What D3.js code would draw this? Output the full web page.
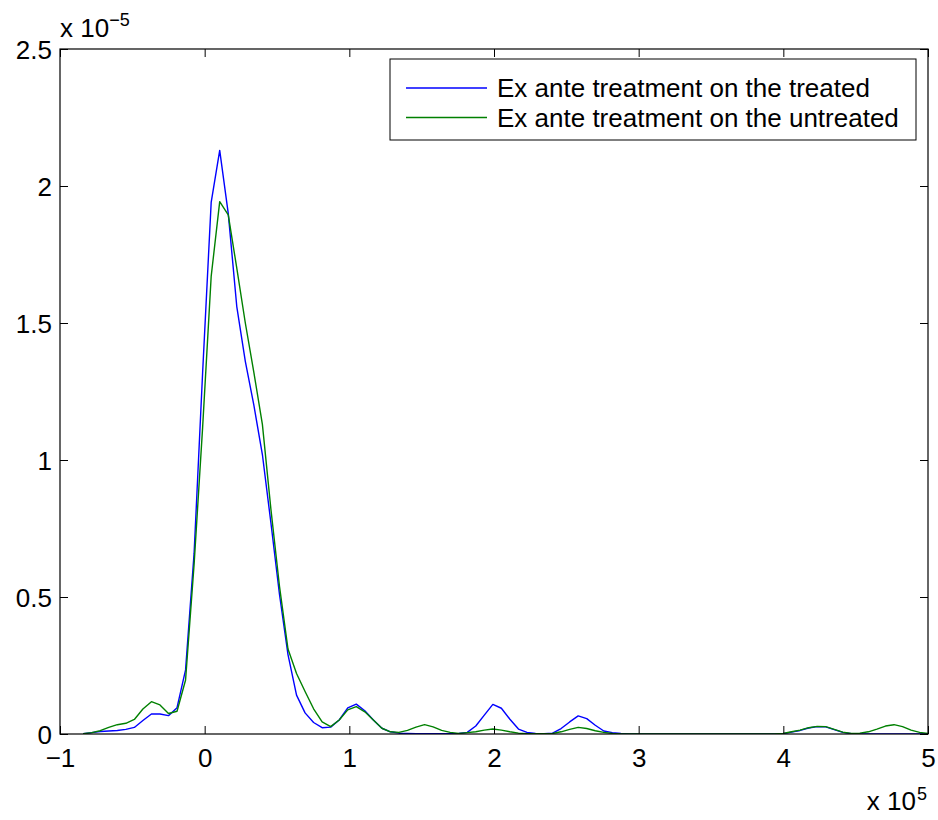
<!DOCTYPE html>
<html>
<head>
<meta charset="utf-8">
<script src="https://cdn.jsdelivr.net/npm/d3@7"></script>
<style>
  body { margin: 0; background: white; }
  text { font-family: "Liberation Sans", Arial, Helvetica, sans-serif; fill: black; }
</style>
</head>
<body>
<svg id="chart" width="938" height="820"></svg>
<script>
// Evaluation points (units of 10^5)
var xGrid = [-0.840, -0.781, -0.722, -0.663, -0.604, -0.545, -0.486, -0.427, -0.368, -0.309,
    -0.250, -0.191, -0.132, -0.073, -0.014, 0.045, 0.104, 0.163, 0.222, 0.281,
    0.340, 0.399, 0.458, 0.517, 0.576, 0.635, 0.694, 0.753, 0.812, 0.871,
    0.930, 0.989, 1.048, 1.107, 1.166, 1.225, 1.284, 1.343, 1.402, 1.461,
    1.520, 1.579, 1.638, 1.697, 1.756, 1.815, 1.874, 1.933, 1.992, 2.051,
    2.110, 2.169, 2.228, 2.287, 2.346, 2.405, 2.464, 2.523, 2.582, 2.641,
    2.700, 2.759, 2.818, 2.877, 2.936, 2.995, 3.054, 3.113, 3.172, 3.231,
    3.290, 3.349, 3.408, 3.467, 3.526, 3.585, 3.644, 3.703, 3.762, 3.821,
    3.880, 3.939, 3.998, 4.057, 4.116, 4.175, 4.234, 4.293, 4.352, 4.411,
    4.470, 4.529, 4.588, 4.647, 4.706, 4.765, 4.824, 4.883, 4.942, 5.000];

// Density of the treated (units of 10^-5)
var treated = [0.001, 0.005, 0.009, 0.011, 0.013, 0.017, 0.024, 0.049, 0.073, 0.073,
    0.067, 0.096, 0.234, 0.66, 1.32, 1.94, 2.13, 1.90, 1.56, 1.36,
    1.20, 1.02, 0.77, 0.51, 0.29, 0.142, 0.077, 0.042, 0.023, 0.025,
    0.051, 0.095, 0.109, 0.085, 0.051, 0.021, 0.008, 0.003, 0.002, 0.001,
    0.001, 0.001, 0.001, 0.001, 0.002, 0.006, 0.029, 0.069, 0.108, 0.094,
    0.054, 0.018, 0.006, 0.002, 0.001, 0.003, 0.020, 0.044, 0.066, 0.056,
    0.032, 0.011, 0.005, 0.002, 0, 0, 0, 0, 0, 0,
    0, 0, 0, 0, 0, 0, 0, 0, 0, 0,
    0, 0, 0.001, 0.007, 0.013, 0.022, 0.027, 0.026, 0.016, 0.006,
    0.001, 0, 0, 0, 0, 0, 0, 0, 0, 0];

// Density of the untreated (units of 10^-5)
var untreated = [0.001, 0.005, 0.012, 0.024, 0.034, 0.039, 0.053, 0.091, 0.118, 0.106,
    0.075, 0.083, 0.197, 0.62, 1.12, 1.67, 1.943, 1.895, 1.70, 1.50,
    1.32, 1.13, 0.82, 0.54, 0.31, 0.221, 0.155, 0.092, 0.044, 0.027,
    0.051, 0.088, 0.100, 0.081, 0.051, 0.021, 0.008, 0.006, 0.013, 0.025,
    0.034, 0.026, 0.013, 0.006, 0.002, 0.005, 0.008, 0.014, 0.018, 0.014,
    0.008, 0.003, 0.001, 0.001, 0.001, 0.002, 0.008, 0.017, 0.024, 0.020,
    0.012, 0.006, 0.002, 0, 0, 0, 0, 0, 0, 0,
    0, 0, 0, 0, 0, 0, 0, 0, 0, 0,
    0, 0, 0.002, 0.008, 0.014, 0.023, 0.028, 0.027, 0.017, 0.007,
    0.002, 0.003, 0.008, 0.018, 0.029, 0.034, 0.027, 0.014, 0.006, 0.002];

var seriesNames = ['Ex ante treatment on the treated', 'Ex ante treatment on the untreated'];
var seriesColors = ['#0000ff', '#008000'];

var xTicks = [-1, 0, 1, 2, 3, 4, 5];
var xTickLabels = ['\u22121', '0', '1', '2', '3', '4', '5'];
var yTicks = [0, 0.5, 1, 1.5, 2, 2.5];
var yTickLabels = ['0', '0.5', '1', '1.5', '2', '2.5'];

var margin = {left: 60, top: 49, right: 10, bottom: 86};
var svg = d3.select('#chart');
var W = 938, H = 820;
var width = W - margin.left - margin.right,
    height = H - margin.top - margin.bottom;
var fontSize = '26px';

var x = d3.scaleLinear().domain([-1, 5]).range([margin.left, margin.left + width]);
var y = d3.scaleLinear().domain([0, 2.5]).range([margin.top + height, margin.top]);

svg.append('defs').append('clipPath').attr('id', 'clip')
    .append('rect')
    .attr('x', margin.left).attr('y', margin.top)
    .attr('width', width).attr('height', height);

// Data lines, treated first so untreated sits on top
var series = [treated, untreated];
var line = d3.line()
    .x(function(d) { return x(d[0]); })
    .y(function(d) { return y(d[1]); });

series.forEach(function(vals, k) {
    svg.append('path')
        .datum(xGrid.map(function(v, i) { return [v, vals[i]]; }))
        .attr('clip-path', 'url(#clip)')
        .attr('fill', 'none')
        .attr('stroke', seriesColors[k])
        .attr('stroke-width', 1.4)
        .attr('stroke-linejoin', 'round')
        .attr('d', line);
});

// Axes with inward ticks on all four sides (box on)
var tickLen = 8;
svg.append('g')
    .attr('transform', 'translate(0,' + (margin.top + height) + ')')
    .call(d3.axisBottom(x).tickValues(xTicks).tickSize(-tickLen)
        .tickFormat(function(d, i) { return xTickLabels[i]; }))
    .call(function(g) {
        g.select('.domain').remove();
        g.selectAll('text').attr('y', 33).attr('dy', 0).style('font-size', fontSize);
    });
svg.append('g')
    .attr('transform', 'translate(0,' + margin.top + ')')
    .call(d3.axisTop(x).tickValues(xTicks).tickSize(-tickLen).tickFormat(''))
    .call(function(g) { g.select('.domain').remove(); });
svg.append('g')
    .attr('transform', 'translate(' + margin.left + ',0)')
    .call(d3.axisLeft(y).tickValues(yTicks).tickSize(-tickLen)
        .tickFormat(function(d, i) { return yTickLabels[i]; }))
    .call(function(g) {
        g.select('.domain').remove();
        g.selectAll('text').attr('x', -8).attr('dy', '0.36em').style('font-size', fontSize);
    });
svg.append('g')
    .attr('transform', 'translate(' + (margin.left + width) + ',0)')
    .call(d3.axisRight(y).tickValues(yTicks).tickSize(-tickLen).tickFormat(''))
    .call(function(g) { g.select('.domain').remove(); });

svg.selectAll('.tick line').attr('stroke', 'black').attr('stroke-width', 1);
svg.selectAll('.tick text').style('font-family', '"Liberation Sans", Arial, sans-serif').attr('fill', 'black');

// Axes box
svg.append('rect')
    .attr('x', margin.left).attr('y', margin.top)
    .attr('width', width).attr('height', height)
    .attr('fill', 'none').attr('stroke', 'black').attr('stroke-width', 1.2);

// Exponent labels
var yExp = svg.append('text').attr('x', margin.left).attr('y', 37).style('font-size', fontSize);
yExp.append('tspan').text('x 10');
yExp.append('tspan').attr('dy', -11).style('font-size', '18px').text('\u22125');

svg.append('text').attr('x', 916).attr('y', 810)
    .attr('text-anchor', 'end').style('font-size', fontSize).text('x 10');
svg.append('text').attr('x', 917).attr('y', 800).style('font-size', '18px').text('5');

// Legend
var lg = svg.append('g');
lg.append('rect')
    .attr('x', 390).attr('y', 59).attr('width', 526).attr('height', 81)
    .attr('fill', 'white').attr('stroke', 'black').attr('stroke-width', 1);
seriesNames.forEach(function(name, k) {
    var ly = 88 + k * 29.5;
    lg.append('line')
        .attr('x1', 406).attr('x2', 487).attr('y1', ly).attr('y2', ly)
        .attr('stroke', seriesColors[k]).attr('stroke-width', 1.4);
    lg.append('text')
        .attr('x', 497).attr('y', ly).attr('dy', '0.36em')
        .style('font-size', fontSize).text(name);
});
</script>
</body>
</html>
